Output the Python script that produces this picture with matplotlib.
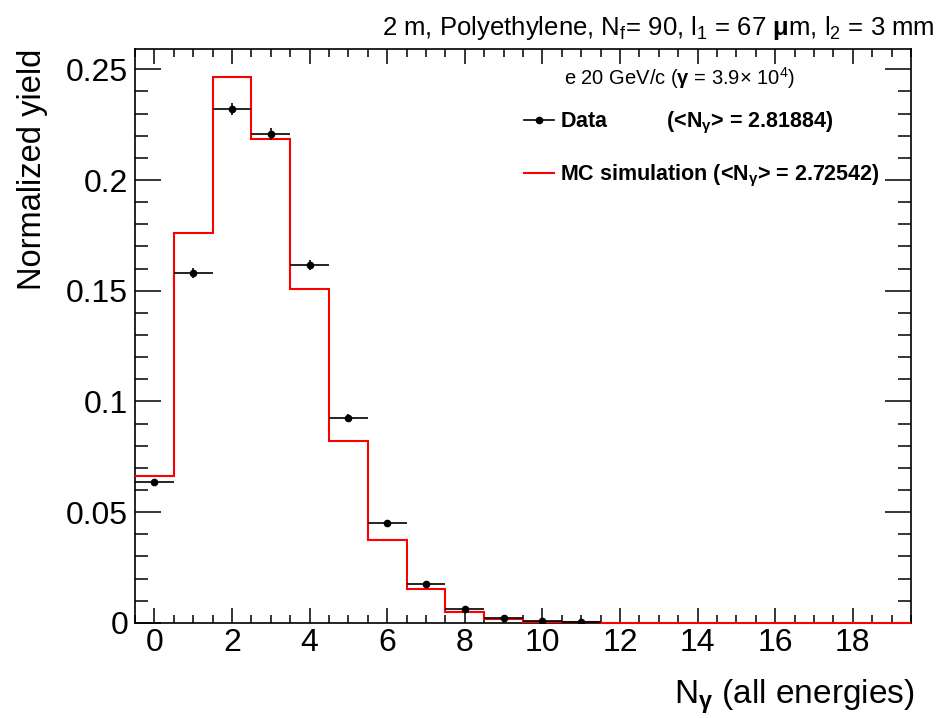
"""
N_gamma yield: data vs MC (ROOT-style histogram look)
"""

import numpy as np
import matplotlib
matplotlib.use("Agg")
import matplotlib.pyplot as plt
from matplotlib.lines import Line2D
from matplotlib.ticker import MultipleLocator, FuncFormatter

plt.rcParams["font.family"] = ["Liberation Sans", "DejaVu Sans"]
plt.rcParams["mathtext.fontset"] = "custom"
plt.rcParams["mathtext.rm"] = "Liberation Sans"
plt.rcParams["mathtext.it"] = "Liberation Sans"
plt.rcParams["mathtext.bf"] = "Liberation Sans:bold"

# --- data ---
data_n = [0, 1, 2, 3, 4, 5, 6, 7, 8, 9, 10, 11]
data_yield = [0.0636, 0.1580, 0.2322, 0.2208, 0.1615, 0.0925,
              0.0449, 0.0175, 0.0064, 0.0020, 0.0006, 0.0002]
data_err = [0.0015, 0.0023, 0.0028, 0.0028, 0.0023, 0.0017,
            0.0012, 0.0008, 0.0005, 0.0003, 0.0002, 0.0001]

mc_edges = np.arange(-0.5, 20.0, 1.0)
mc_yield = [0.0663, 0.1760, 0.2467, 0.2187, 0.1506, 0.0823, 0.0374,
            0.0151, 0.0049, 0.0017, 0.0005, 0.0002,
            0, 0, 0, 0, 0, 0, 0, 0]

data_mean = 2.81884
mc_mean = 2.72542

fig = plt.figure(figsize=(9.4, 7.18), dpi=100)
ax = fig.add_axes([0.1436, 0.1326, 0.9691 - 0.1436, 0.9318 - 0.1326])

# MC histogram
ax.stairs(mc_yield, mc_edges, baseline=None, color="#ff0000", lw=1.5,
          zorder=4, clip_on=False)

# data points with bin-width x errors
ax.errorbar(data_n, data_yield, yerr=data_err, xerr=0.5, fmt="o",
            color="black", ms=4.5, elinewidth=1.2, capsize=0, zorder=5)

ax.set_xlim(-0.5, 19.5)
ax.set_ylim(0, 0.2592)

# ROOT-like ticks
ax.xaxis.set_major_locator(MultipleLocator(2))
ax.xaxis.set_minor_locator(MultipleLocator(0.5))
ax.yaxis.set_major_locator(MultipleLocator(0.05))
ax.yaxis.set_minor_locator(MultipleLocator(0.01))
ax.yaxis.set_major_formatter(FuncFormatter(lambda v, p: "%g" % round(v, 3)))
ax.tick_params(axis="both", which="both", direction="in", top=True, right=True,
               width=1.1, labelsize=23)
ax.tick_params(axis="x", which="major", length=10.8, pad=4)
ax.tick_params(axis="x", which="minor", length=5.5)
ax.tick_params(axis="y", which="major", length=18.7, pad=5)
ax.tick_params(axis="y", which="minor", length=9.4)
for sp in ax.spines.values():
    sp.set_linewidth(1.2)

ax.set_ylabel("Normalized yield", fontsize=23.5, loc="top")
ax.yaxis.set_label_coords(-0.112, 1.0)
ax.set_xlabel(r"N$_{\mathbf{\gamma}}$ (all energies)", fontsize=24, loc="right")
ax.xaxis.set_label_coords(1.005, -0.096)

fig.text(935 / 940, 1 - 28 / 718,
         r"2 m, Polyethylene, N$_f$= 90, l$_1$ = 67 $\mathbf{\mu}$m, l$_2$ = 3 mm",
         ha="right", va="center", fontsize=18.5)

# legend header
ax.text(0.553, 0.9495, r"e 20 GeV/c ($\mathbf{\gamma}$ = 3.9$\times$ 10$^{4}$)",
        transform=ax.transAxes, ha="left", va="center", fontsize=14.5)

# legend entries
handles = [
    Line2D([], [], color="black", marker="o", ms=4.5, lw=1.2),
    Line2D([], [], color="#ff0000", lw=1.5),
]
labels = [
    r"Data          (<N$_{\mathbf{\gamma}}$> = %.5f)" % data_mean,
    r"MC simulation (<N$_{\mathbf{\gamma}}$> = %.5f)" % mc_mean,
]
ax.legend(handles, labels, loc="upper left", bbox_to_anchor=(0.487, 0.913),
          frameon=False, prop={"size": 15.5, "weight": "bold"}, borderpad=0,
          handlelength=1.4, handletextpad=0.3, labelspacing=1.25)

fig.savefig("out.png", dpi=100)
plt.close(fig)
